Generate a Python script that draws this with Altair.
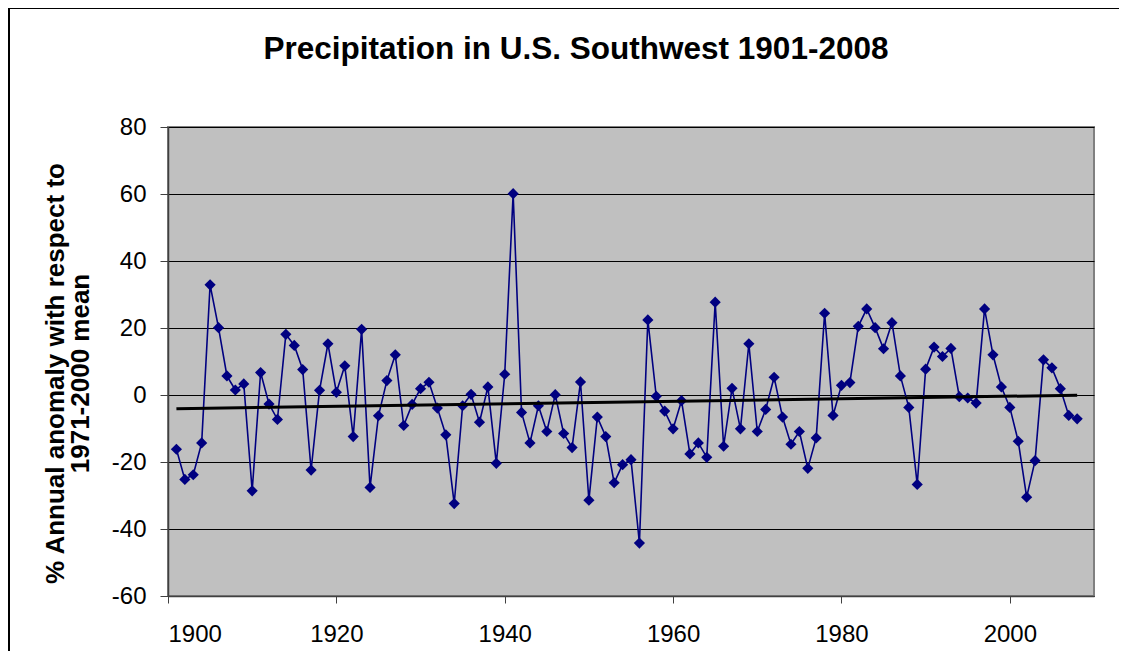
import altair as alt
import pandas as pd

years = list(range(1901, 2009))
anomaly = [
    -16.2, -25.2, -23.8, -14.3, 32.9, 20.1, 5.7, 1.5, 3.3, -28.6,
    6.7, -2.7, -7.3, 18.1, 14.8, 7.6, -22.4, 1.4, 15.3, 0.8,
    8.7, -12.4, 19.6, -27.6, -6.2, 4.3, 12.0, -9.1, -2.8, 1.9,
    3.8, -3.9, -11.9, -32.4, -3.2, 0.2, -8.1, 2.4, -20.4, 6.2,
    60.1, -5.2, -14.3, -3.2, -10.9, 0.1, -11.5, -15.7, 3.9, -31.4,
    -6.6, -12.4, -26.2, -20.8, -19.3, -44.2, 22.4, -0.4, -4.8, -10.1,
    -1.7, -17.6, -14.3, -18.6, 27.7, -15.3, 2.0, -10.1, 15.3, -10.9,
    -4.3, 5.3, -6.6, -14.7, -10.9, -21.9, -12.8, 24.4, -6.1, 2.9,
    3.7, 20.5, 25.7, 20.1, 13.8, 21.6, 5.7, -3.7, -26.7, 7.7,
    14.3, 11.5, 13.9, -0.5, -0.9, -2.4, 25.7, 12.0, 2.4, -3.7,
    -13.8, -30.5, -19.6, 10.5, 8.1, 1.9, -6.1, -7.1,
]
x_ticks = [1900, 1920, 1940, 1960, 1980, 2000]
y_ticks = [-60, -40, -20, 0, 20, 40, 60, 80]
title_text = "Precipitation in U.S. Southwest 1901-2008"
y_title = ["% Annual anomaly with respect to", "1971-2000 mean"]

df = pd.DataFrame({"year": years, "anomaly": anomaly})

FONT = "Liberation Sans"

x_enc = alt.X(
    "year:Q",
    scale=alt.Scale(domain=[1900, 2010], nice=False, zero=False),
    axis=alt.Axis(
        values=x_ticks, format="d", grid=False, title=None,
        tickSize=7, tickColor="#404040", domainColor="#404040", domainWidth=1.5,
        labelFontSize=24, labelFont=FONT, labelColor="black",
        labelBaseline="alphabetic", labelPadding=38,
    ),
)
y_enc = alt.Y(
    "anomaly:Q",
    scale=alt.Scale(domain=[-60, 80], nice=False, zero=False),
    axis=alt.Axis(
        values=y_ticks, grid=True, gridColor="black", gridWidth=1,
        labelExpr="datum.value < 0 ? '-' + abs(datum.value) : '' + datum.value",
        tickSize=8, tickColor="#404040", domainColor="#404040", domainWidth=1.5,
        labelFontSize=24, labelFont=FONT, labelColor="black", labelPadding=14,
        title=y_title, titleFont=FONT, titleFontSize=26, titleFontWeight="bold",
        titleColor="black", titleAngle=-90, titleAlign="center",
        titleBaseline="middle", titleLineHeight=25, titleX=-113, titleY=246,
    ),
)

base = alt.Chart(df)
one = pd.DataFrame({"a": [0]})

border = alt.Chart(one).mark_rect(
    fillOpacity=0, stroke="black", strokeWidth=2
).encode(
    x=alt.value(-159), x2=alt.value(1400), y=alt.value(-119), y2=alt.value(900)
)

title = alt.Chart(one).mark_text(
    font=FONT, fontSize=31.5, fontWeight="bold", color="black",
    align="center", baseline="alphabetic",
).encode(x=alt.value(408), y=alt.value(-68), text=alt.value(title_text))

line = base.mark_line(color="#000080", strokeWidth=1.6).encode(x=x_enc, y=y_enc)
points = base.mark_point(
    shape="diamond", filled=True, size=125, color="#000080", opacity=1
).encode(x=x_enc, y=y_enc)
trend = base.transform_regression(
    "year", "anomaly", extent=[1901, 2008]
).mark_line(color="black", strokeWidth=3).encode(x=x_enc, y=y_enc)

chart = alt.layer(line, points, trend, border, title).properties(
    width=926,
    height=469,
    background="white",
    autosize=alt.AutoSizeParams(type="none"),
    padding={"left": 160, "top": 119, "right": 25, "bottom": 55},
).configure_view(
    fill="#C0C0C0", stroke="#808080", strokeWidth=2
)

chart.save("out.html", embed_options={"renderer": "svg", "actions": False})
